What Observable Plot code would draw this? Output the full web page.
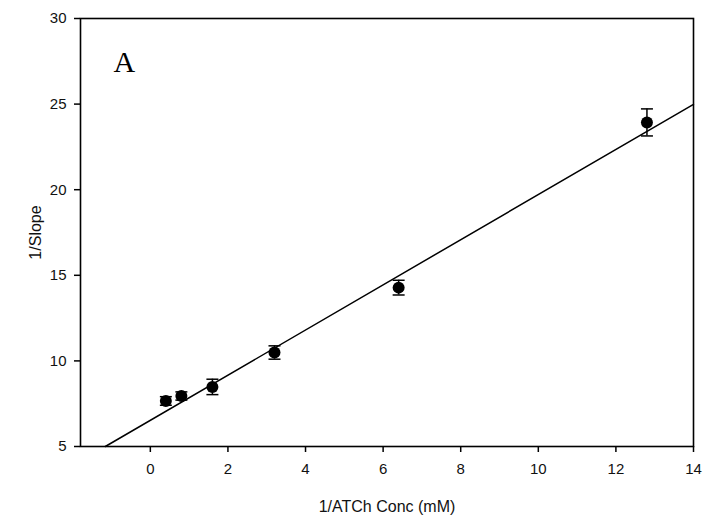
<!DOCTYPE html>
<html>
<head>
<meta charset="utf-8">
<script src="https://cdn.jsdelivr.net/npm/d3@7"></script>
<script src="https://cdn.jsdelivr.net/npm/@observablehq/plot@0.6"></script>
<style>
  html, body { margin: 0; padding: 0; background: #fff; }
  #chart svg { display: block; }
</style>
</head>
<body>
<div id="chart"></div>
<script>
// Data
const concInv = [0.4, 0.8, 1.6, 3.2, 6.4, 12.8];          // 1/ATCh Conc (mM)
const slopeInv = [7.66, 7.95, 8.48, 10.49, 14.28, 23.93];  // 1/Slope
const errors = [0.25, 0.24, 0.45, 0.39, 0.43, 0.79];       // error bar half-lengths

// Fitted line and its drawn range
const fitSlope = 1.3185;
const fitIntercept = 6.53;
const fitRange = [-1.16, 14];

const xTicks = [0, 2, 4, 6, 8, 10, 12, 14];
const yTicks = [5, 10, 15, 20, 25, 30];
const panelLabel = "A";

const points = concInv.map((x, i) => ({x, y: slopeInv[i], lo: slopeInv[i] - errors[i], hi: slopeInv[i] + errors[i]}));
const fitLine = fitRange.map(x => ({x, y: fitIntercept + fitSlope * x}));
const caps = points.flatMap(d => [{x: d.x, y: d.lo}, {x: d.x, y: d.hi}]);

const capSymbol = {
  draw(context, size) {
    const r = Math.sqrt(size / Math.PI);
    context.moveTo(-r, 0);
    context.lineTo(r, 0);
  }
};

const chart = Plot.plot({
  width: 704,
  height: 517,
  marginLeft: 80,
  marginRight: 11,
  marginTop: 18,
  marginBottom: 71,
  style: {fontFamily: "'Liberation Sans', Arial, sans-serif", fontSize: "15px", color: "#000", background: "#fff"},
  x: {domain: [-1.8, 14]},
  y: {domain: [5, 30]},
  marks: [
    Plot.axisX({ticks: xTicks, tickSize: 6, tickPadding: 11, strokeWidth: 1.5, fill: "#111", label: null, fontSize: 15}),
    Plot.axisY({ticks: yTicks, tickSize: 6, tickPadding: 8, strokeWidth: 1.5, fill: "#111", label: null, fontSize: 15}),
    Plot.text(["1/ATCh Conc (mM)"], {frameAnchor: "bottom", textAnchor: "middle", lineAnchor: "bottom", dy: 65, fontSize: 16, fill: "#111", text: d => d}),
    Plot.text(["1/Slope"], {frameAnchor: "left", textAnchor: "middle", rotate: -90, lineAnchor: "top", dx: -51, fontSize: 16, fill: "#111", text: d => d}),
    Plot.frame({stroke: "#000", strokeWidth: 1.6}),
    Plot.line(fitLine, {x: "x", y: "y", stroke: "#000", strokeWidth: 1.5}),
    Plot.ruleX(points, {x: "x", y1: "lo", y2: "hi", stroke: "#000", strokeWidth: 1.5}),
    Plot.dot(caps, {x: "x", y: "y", symbol: capSymbol, r: 6, stroke: "#000", strokeWidth: 1.5, fill: "none"}),
    Plot.dot(points, {x: "x", y: "y", r: 6, fill: "#000", stroke: "none"}),
    Plot.text([panelLabel], {frameAnchor: "top-left", textAnchor: "start", lineAnchor: "top", dx: 33, dy: 32, fontSize: 30, fontFamily: "'Liberation Serif', 'Times New Roman', serif", fill: "#000", text: d => d})
  ]
});
document.getElementById("chart").appendChild(chart);
</script>
</body>
</html>
